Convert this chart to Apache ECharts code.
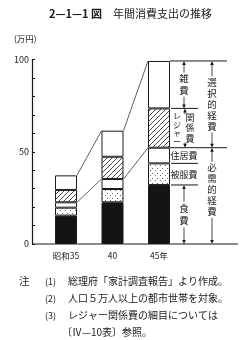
<!DOCTYPE html>
<html><head><meta charset="utf-8">
<script src="https://cdn.jsdelivr.net/npm/echarts@6/dist/echarts.min.js"></script>
<style>html,body{margin:0;padding:0;background:#fff}#c{width:249px;height:340px}</style>
</head><body><div id="c"></div>
<script>
const categories = ['昭和35', '40', '45年'];
const food = [15.4, 22.6, 32.0];
const clothing = [4.3, 7.2, 11.7];
const housing = [2.9, 5.4, 8.5];
const leisure = [6.7, 12.1, 21.3];
const misc = [7.9, 14.1, 25.7];
const yLabels = [0, 50, 100];
const notes = [
  ['注', '(1)', '総理府「家計調査報告」より作成。'],
  ['', '(2)', '人口５万人以上の都市世帯を対象。'],
  ['', '(3)', 'レジャー関係費の細目については'],
  ['', '', '〔Ⅳ—10表〕参照。']
];

const FONT = '"Noto Sans CJK JP", sans-serif';
const INK = '#1a1a1a';
const BW = 22;
const Y_OFF = 10.75;

function makePattern(kind) {
  const c = document.createElement('canvas');
  if (kind === 'dots') {
    c.width = 5; c.height = 5;
    const g = c.getContext('2d');
    g.fillStyle = '#fff'; g.fillRect(0, 0, 5, 5);
    g.fillStyle = '#666';
    g.fillRect(0, 0, 1, 1); g.fillRect(2, 3, 1, 1);
  } else {
    c.width = 5; c.height = 5;
    const g = c.getContext('2d');
    g.fillStyle = '#fff'; g.fillRect(0, 0, 5, 5);
    g.strokeStyle = '#333'; g.lineWidth = 0.9;
    g.beginPath();
    g.moveTo(-1, 6); g.lineTo(6, -1);
    g.moveTo(-1, 1); g.lineTo(1, -1);
    g.moveTo(4, 6); g.lineTo(6, 4);
    g.stroke();
  }
  return { image: c, repeat: 'repeat' };
}

function sum(i, n) {
  const arrs = [food, clothing, housing, leisure, misc];
  let s = 0; for (let k = 0; k < n; k++) s += arrs[k][i]; return s;
}

function bar(name, data, color) {
  return {
    name, type: 'bar', stack: 'total', data, barWidth: BW,
    itemStyle: { color, borderColor: INK, borderWidth: 1 },
    silent: true, animation: false
  };
}

function vtext(str, x, y, size, lh) {
  return { type: 'text', style: { text: str.split('').join('\n'), x, y, fontSize: size, lineHeight: lh,
    fontFamily: FONT, fill: INK, align: 'center', verticalAlign: 'middle' } };
}
function htext(str, x, y, size) {
  return { type: 'text', style: { text: str, x, y, fontSize: size, fontFamily: FONT, fill: INK,
    align: 'center', verticalAlign: 'middle' } };
}
function line(x1, y1, x2, y2, w) {
  return { type: 'line', shape: { x1, y1, x2, y2 }, style: { stroke: INK, lineWidth: w || 1 } };
}
function arrow(x, yFrom, yTo) {
  const dir = yTo > yFrom ? 1 : -1;
  return [
    line(x, yFrom, x, yTo - dir * 3, 0.8),
    { type: 'polygon', shape: { points: [[x - 1.8, yTo - dir * 4], [x + 1.8, yTo - dir * 4], [x, yTo]] },
      style: { fill: INK } }
  ];
}

function renderDecor(params, api) {
  const ch = [];
  const cs = params.coordSys;
  const y0 = api.coord([0, 0])[1];
  ch.push(line(cs.x - Y_OFF, y0, 238, y0, 1.2));
  for (let i = 0; i < categories.length - 1; i++) {
    for (const n of [5, 3]) {
      const a = api.coord([i, sum(i, n)]);
      const b = api.coord([i + 1, sum(i + 1, n)]);
      ch.push(line(a[0] + BW / 2, a[1], b[0] - BW / 2, b[1], 0.7));
    }
  }
  const L = categories.length - 1;
  const xr = api.coord([L, 0])[0] + BW / 2;
  const yTop = api.coord([L, sum(L, 5)])[1];
  const yMisc = api.coord([L, sum(L, 4)])[1];
  const yLeis = api.coord([L, sum(L, 3)])[1];
  const yHous = api.coord([L, sum(L, 2)])[1];
  const yClo = api.coord([L, sum(L, 1)])[1];
  ch.push(line(xr, yTop, xr + 57, yTop, 1));
  ch.push(line(xr, yLeis, xr + 57, yLeis, 1));
  ch.push(line(xr + 1, yMisc, xr + 28, yMisc, 1));
  ch.push(line(xr + 1, yHous, xr + 28, yHous, 1));
  ch.push(line(xr + 1, yClo, xr + 28, yClo, 1));
  const c1 = xr + 14, c2 = xr + 42;
  let m = (yTop + yMisc) / 2;
  ch.push(vtext('雑費', c1, m, 9.5, 12));
  ch.push(...arrow(c1, m - 12, yTop), ...arrow(c1, m + 12, yMisc));
  m = (yMisc + yLeis) / 2;
  ch.push(vtext('関係費', c1 + 6, m, 9, 10.5));
  ch.push(vtext('レジャー', c1 - 7, m + 1, 8, 8.5));
  ch.push(...arrow(c1 + 1, yMisc + 6, yMisc), ...arrow(c1 + 1, yLeis - 5, yLeis));
  ch.push(htext('住居費', c1, (yLeis + yHous) / 2 + 0.5, 9));
  ch.push(htext('被服費', c1, (yHous + yClo) / 2, 9));
  m = (yClo + y0) / 2;
  ch.push(vtext('食費', c1, m, 9.5, 12));
  ch.push(...arrow(c1, m - 13, yClo), ...arrow(c1, m + 13, y0));
  m = (yTop + yLeis) / 2;
  ch.push(vtext('選択的経費', c2, m, 9.5, 11));
  ch.push(...arrow(c2, m - 28, yTop), ...arrow(c2, m + 28, yLeis));
  m = (yLeis + y0) / 2 - 6;
  ch.push(vtext('必需的経費', c2, m, 9.5, 11));
  ch.push(...arrow(c2, m - 28, yLeis), ...arrow(c2, m + 28, y0));
  return { type: 'group', children: ch };
}

const noteGraphics = [];
notes.forEach((n, i) => {
  const y = 283 + i * 17;
  if (n[0]) noteGraphics.push({ type: 'text', left: 19, top: y - 7, style: { text: n[0], fontSize: 10.5, fontFamily: FONT, fill: INK } });
  if (n[1]) noteGraphics.push({ type: 'text', left: 45, top: y - 6, style: { text: n[1], fontSize: 9, fontFamily: FONT, fill: INK } });
  noteGraphics.push({ type: 'text', left: n[1] ? 68 : 62, top: y - 7, style: { text: n[2], fontSize: 10, fontFamily: FONT, fill: INK } });
});

const chart = echarts.init(document.getElementById('c'), null, { renderer: 'canvas' });
chart.setOption({
  backgroundColor: '#fff',
  animation: false,
  grid: { left: 42.75, right: 249 - 182.25, top: 59.5, bottom: 340 - 244 },
  xAxis: {
    type: 'category', data: categories,
    axisLine: { show: false }, axisTick: { show: false },
    axisLabel: { color: INK, fontSize: 8.5, fontFamily: FONT, margin: 8 }
  },
  yAxis: {
    type: 'value', min: 0, max: 100, interval: 10, offset: Y_OFF,
    axisLine: { show: true, lineStyle: { color: INK, width: 1.2 } },
    axisTick: { show: true, inside: true, length: 3, lineStyle: { color: INK } },
    splitLine: { show: false },
    axisLabel: { color: INK, fontSize: 9, fontFamily: FONT, margin: 3,
      formatter: v => (yLabels.indexOf(v) >= 0 ? String(v) : '') }
  },
  graphic: [
    { type: 'text', left: 49, top: 8, style: {
      text: '{b|2—1—1 図}{n|　年間消費支出の推移}',
      rich: { b: { fontSize: 11, fontWeight: 'bold', fontFamily: FONT, fill: INK },
              n: { fontSize: 11, fontFamily: FONT, fill: INK } } } },
    { type: 'text', left: 14, top: 35, style: { text: '(万円)', fontSize: 8.5, fontFamily: FONT, fill: INK } },
    ...noteGraphics
  ],
  series: [
    bar('食費', food, '#141414'),
    bar('被服費', clothing, makePattern('dots')),
    bar('住居費', housing, '#fff'),
    bar('レジャー関係費', leisure, makePattern('hatch')),
    bar('雑費', misc, '#fff'),
    { type: 'custom', renderItem: renderDecor, data: [[0, 0]], clip: false, silent: true, z: 5 }
  ]
});
</script></body></html>
